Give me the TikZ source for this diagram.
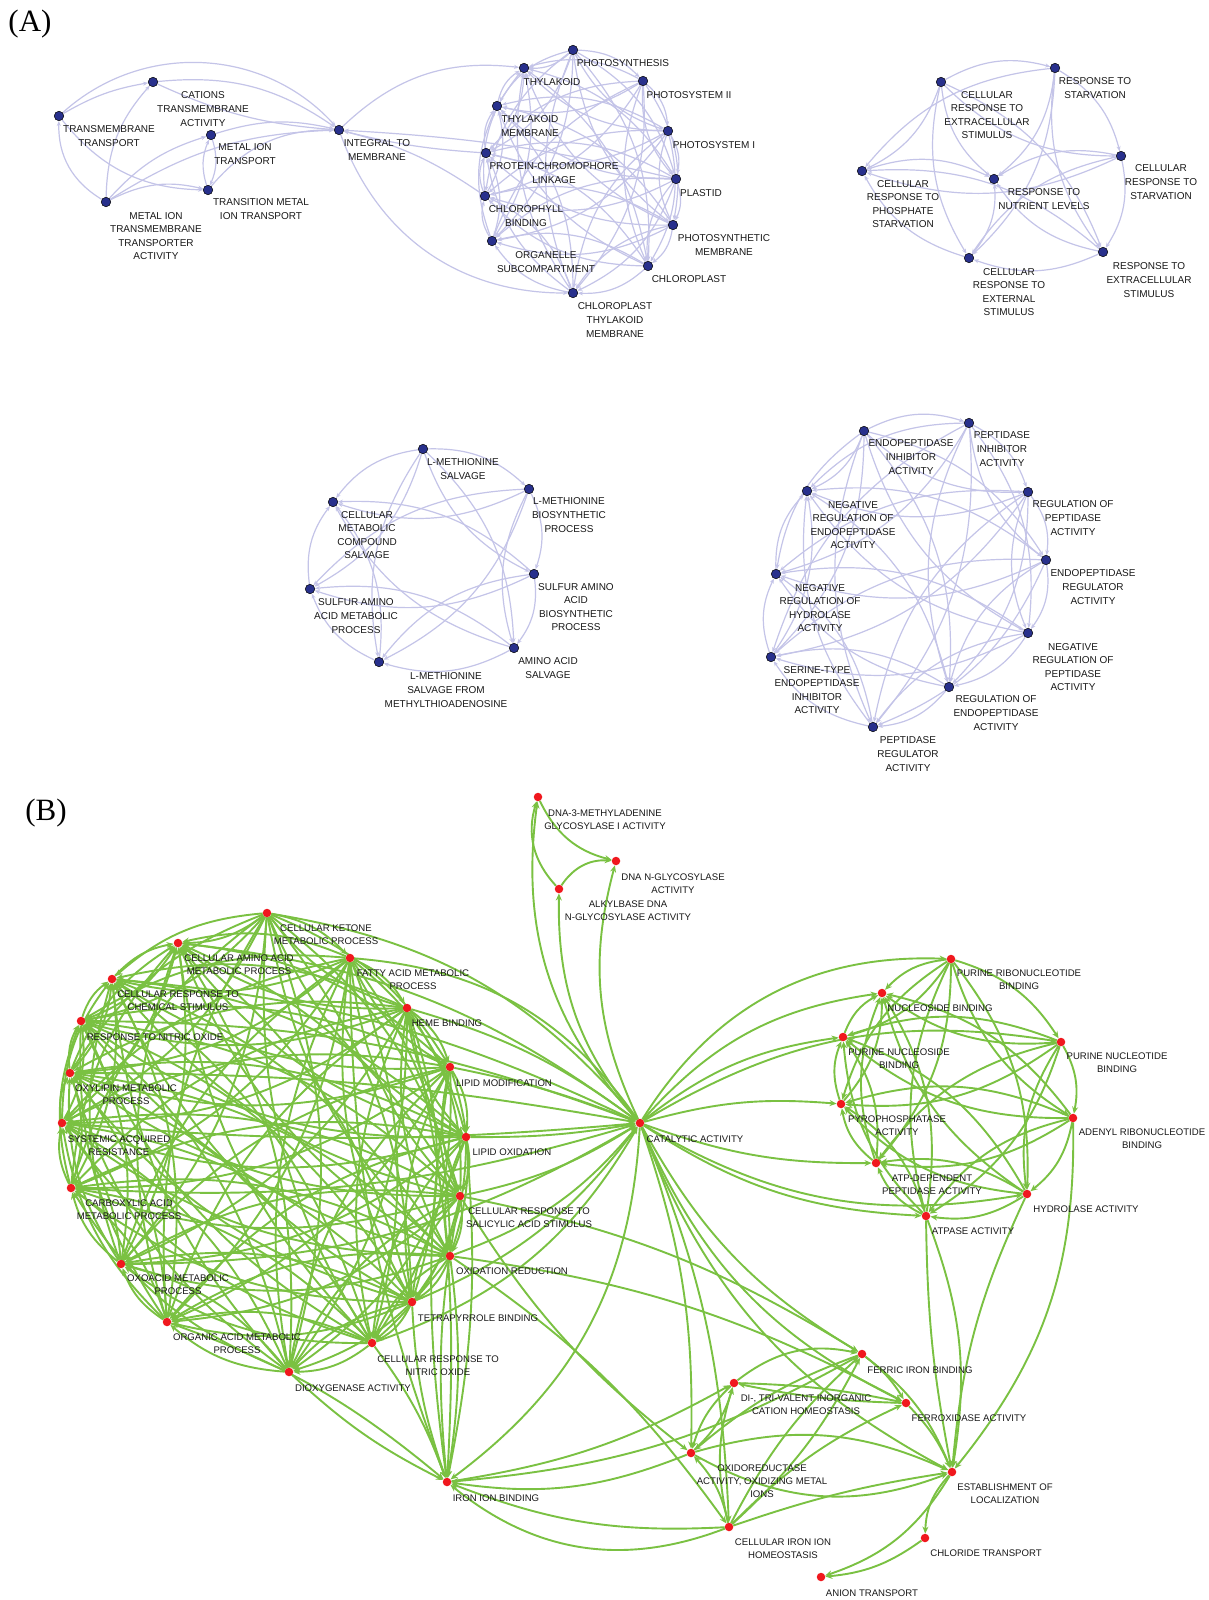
\documentclass[tikz,border=0pt]{standalone}
\usepackage{fontspec}
\setmainfont{Liberation Sans}
\newfontfamily\panelfont{Liberation Serif}
\usetikzlibrary{arrows.meta}
\definecolor{nodeblue}{RGB}{40,48,140}
\definecolor{nodered}{RGB}{240,24,30}
\definecolor{linklav}{RGB}{196,196,232}
\definecolor{linkgreen}{RGB}{122,193,66}
\pgfdeclarelayer{edges}
\pgfsetlayers{edges,main}

\begin{document}
\begin{tikzpicture}[x=1pt, y=-1pt,
  dotA/.style={circle, draw=black, line width=0.5pt, fill=nodeblue, inner sep=0pt, minimum size=9.5pt},
  dotB/.style={circle, fill=nodered, inner sep=0pt, minimum size=8.5pt},
  labA/.style={align=center, inner sep=0pt, text=black!90, font=\fontsize{10}{13.6}\selectfont},
  labB/.style={align=center, inner sep=0pt, text=black!90, font=\fontsize{9.6}{12.7}\selectfont},
  linkA/.style={draw=linklav, line width=1.2pt, -{Stealth[length=5pt,width=4pt]}},
  linkB/.style={draw=linkgreen, line width=1.9pt, -{Stealth[length=7pt,width=6pt]}},
  panel/.style={font=\panelfont\fontsize{31}{31}\selectfont}
]
\useasboundingbox (0,0) rectangle (1209,1600);

\node[panel] (pa) at (30,24) {(A)};
\node[panel] (pb) at (46,813) {(B)};

% part A
\foreach \nm/\xy/\lxy/\txt in {
  tmt/{59,116}/{109,136}/{TRANSMEMBRANE\\TRANSPORT},
  cat/{153,82}/{203,109}/{CATIONS\\TRANSMEMBRANE\\ACTIVITY},
  mit/{211,135}/{245,154}/{METAL ION\\TRANSPORT},
  tmi/{208,190}/{261,209}/{TRANSITION METAL\\ION TRANSPORT},
  mia/{106,202}/{156,236}/{METAL ION\\TRANSMEMBRANE\\TRANSPORTER\\ACTIVITY},
  itm/{339,130}/{377,150}/{INTEGRAL TO\\MEMBRANE},
  psn/{573,50}/{623,63}/{PHOTOSYNTHESIS},
  thy/{524,68}/{552,82}/{THYLAKOID},
  ps2/{643,81}/{689,95}/{PHOTOSYSTEM II},
  thm/{497,106}/{530,126}/{THYLAKOID\\MEMBRANE},
  ps1/{668,131}/{714,145}/{PHOTOSYSTEM I},
  pcl/{486,153}/{554,173}/{PROTEIN-CHROMOPHORE\\LINKAGE},
  pla/{676,179}/{701,193}/{PLASTID},
  chb/{485,196}/{526,216}/{CHLOROPHYLL\\BINDING},
  psm/{673,225}/{724,245}/{PHOTOSYNTHETIC\\MEMBRANE},
  osc/{492,241}/{546,262}/{ORGANELLE\\SUBCOMPARTMENT},
  chl/{648,266}/{689,279}/{CHLOROPLAST},
  ctm/{573,293}/{615,320}/{CHLOROPLAST\\THYLAKOID\\MEMBRANE},
  rts/{1055,68}/{1095,88}/{RESPONSE TO\\STARVATION},
  cre/{941,82}/{987,115}/{CELLULAR\\RESPONSE TO\\EXTRACELLULAR\\STIMULUS},
  crs/{1121,156}/{1161,182}/{CELLULAR\\RESPONSE TO\\STARVATION},
  cps/{862,171}/{903,204}/{CELLULAR\\RESPONSE TO\\PHOSPHATE\\STARVATION},
  rnl/{994,179}/{1044,199}/{RESPONSE TO\\NUTRIENT LEVELS},
  cex/{969,258}/{1009,292}/{CELLULAR\\RESPONSE TO\\EXTERNAL\\STIMULUS},
  res/{1103,252}/{1149,280}/{RESPONSE TO\\EXTRACELLULAR\\STIMULUS},
  mss/{423,449}/{463,469}/{L-METHIONINE\\SALVAGE},
  mbp/{529,489}/{569,515}/{L-METHIONINE\\BIOSYNTHETIC\\PROCESS},
  cmc/{333,502}/{367,535}/{CELLULAR\\METABOLIC\\COMPOUND\\SALVAGE},
  sab/{534,574}/{576,607}/{SULFUR AMINO\\ACID\\BIOSYNTHETIC\\PROCESS},
  sam/{310,589}/{356,616}/{SULFUR AMINO\\ACID METABOLIC\\PROCESS},
  aas/{514,648}/{548,668}/{AMINO ACID\\SALVAGE},
  msm/{379,662}/{446,690}/{L-METHIONINE\\SALVAGE FROM\\METHYLTHIOADENOSINE},
  eia/{864,431}/{911,457}/{ENDOPEPTIDASE\\INHIBITOR\\ACTIVITY},
  pia/{969,423}/{1002,449}/{PEPTIDASE\\INHIBITOR\\ACTIVITY},
  nre/{807,491}/{853,525}/{NEGATIVE\\REGULATION OF\\ENDOPEPTIDASE\\ACTIVITY},
  rpa/{1028,492}/{1073,518}/{REGULATION OF\\PEPTIDASE\\ACTIVITY},
  era/{1046,560}/{1093,587}/{ENDOPEPTIDASE\\REGULATOR\\ACTIVITY},
  nrh/{776,574}/{820,608}/{NEGATIVE\\REGULATION OF\\HYDROLASE\\ACTIVITY},
  nrp/{1028,633}/{1073,667}/{NEGATIVE\\REGULATION OF\\PEPTIDASE\\ACTIVITY},
  sei/{771,657}/{817,690}/{SERINE-TYPE\\ENDOPEPTIDASE\\INHIBITOR\\ACTIVITY},
  rea/{949,687}/{996,713}/{REGULATION OF\\ENDOPEPTIDASE\\ACTIVITY},
  pra/{873,727}/{908,754}/{PEPTIDASE\\REGULATOR\\ACTIVITY}}{
  \node[dotA] (\nm) at (\xy) {};
  \node[labA] (\nm-t) at (\lxy) {\txt};
}

% part B
\foreach \nm/\xy/\lxy/\txt in {
  dna/{538,797}/{605,820}/{DNA-3-METHYLADENINE\\GLYCOSYLASE I ACTIVITY},
  dng/{616,861}/{673,884}/{DNA N-GLYCOSYLASE\\ACTIVITY},
  alk/{559,889}/{628,911}/{ALKYLBASE DNA\\N-GLYCOSYLASE ACTIVITY},
  ckm/{267,913}/{326,935}/{CELLULAR KETONE\\METABOLIC PROCESS},
  caa/{178,943}/{239,965}/{CELLULAR AMINO ACID\\METABOLIC PROCESS},
  fam/{350,958}/{413,980}/{FATTY ACID METABOLIC\\PROCESS},
  crc/{112,979}/{178,1001}/{CELLULAR RESPONSE TO\\CHEMICAL STIMULUS},
  hem/{407,1008}/{447,1023}/{HEME BINDING},
  rno/{81,1021}/{155,1037}/{RESPONSE TO NITRIC OXIDE},
  lmo/{450,1067}/{504,1083}/{LIPID MODIFICATION},
  oxy/{70,1073}/{126,1095}/{OXYLIPIN METABOLIC\\PROCESS},
  sar/{62,1123}/{119,1146}/{SYSTEMIC ACQUIRED\\RESISTANCE},
  lox/{466,1137}/{512,1152}/{LIPID OXIDATION},
  cam/{71,1188}/{129,1210}/{CARBOXYLIC ACID\\METABOLIC PROCESS},
  csa/{460,1196}/{529,1218}/{CELLULAR RESPONSE TO\\SALICYLIC ACID STIMULUS},
  oxr/{450,1256}/{512,1271}/{OXIDATION REDUCTION},
  oam/{121,1264}/{178,1285}/{OXOACID METABOLIC\\PROCESS},
  tet/{412,1302}/{478,1318}/{TETRAPYRROLE BINDING},
  orm/{167,1322}/{237,1344}/{ORGANIC ACID METABOLIC\\PROCESS},
  crn/{372,1343}/{438,1366}/{CELLULAR RESPONSE TO\\NITRIC OXIDE},
  dio/{289,1372}/{353,1388}/{DIOXYGENASE ACTIVITY},
  cta/{640,1123}/{695,1139}/{CATALYTIC ACTIVITY},
  prb/{951,959}/{1019,980}/{PURINE RIBONUCLEOTIDE\\BINDING},
  nuc/{882,993}/{940,1008}/{NUCLEOSIDE BINDING},
  pns/{843,1037}/{899,1059}/{PURINE NUCLEOSIDE\\BINDING},
  pnb/{1061,1042}/{1117,1063}/{PURINE NUCLEOTIDE\\BINDING},
  pyr/{841,1104}/{897,1126}/{PYROPHOSPHATASE\\ACTIVITY},
  adr/{1073,1118}/{1142,1139}/{ADENYL RIBONUCLEOTIDE\\BINDING},
  atd/{876,1163}/{932,1185}/{ATP-DEPENDENT\\PEPTIDASE ACTIVITY},
  hyd/{1027,1194}/{1086,1209}/{HYDROLASE ACTIVITY},
  atp/{926,1216}/{973,1231}/{ATPASE ACTIVITY},
  fib/{862,1354}/{920,1370}/{FERRIC IRON BINDING},
  dtv/{734,1383}/{806,1405}/{DI-, TRI-VALENT INORGANIC\\CATION HOMEOSTASIS},
  fer/{906,1403}/{969,1418}/{FERROXIDASE ACTIVITY},
  oxm/{691,1453}/{762,1481}/{OXIDOREDUCTASE\\ACTIVITY, OXIDIZING METAL\\IONS},
  iib/{447,1482}/{496,1498}/{IRON ION BINDING},
  est/{952,1472}/{1005,1494}/{ESTABLISHMENT OF\\LOCALIZATION},
  cih/{729,1527}/{783,1549}/{CELLULAR IRON ION\\HOMEOSTASIS},
  clt/{925,1538}/{986,1553}/{CHLORIDE TRANSPORT},
  ant/{821,1577}/{872,1593}/{ANION TRANSPORT}}{
  \node[dotB] (\nm) at (\xy) {};
  \node[labB] (\nm-t) at (\lxy) {\txt};
}

\begin{pgfonlayer}{edges}
\fill[white] (0,0) rectangle (1209,1600);
% dense clusters: every pair linked
\foreach \st/\bd/\lst in {
  linkA/22/{psn,ps2,ps1,pla,psm,chl,ctm,osc,chb,pcl,thm,thy},
  linkA/22/{cre,rts,crs,res,cex,cps,rnl},
  linkA/22/{mss,mbp,sab,aas,msm,sam,cmc},
  linkA/22/{eia,pia,rpa,era,nrp,rea,pra,sei,nrh,nre},
  linkB/18/{ckm,fam,hem,lmo,lox,csa,oxr,tet,crn,dio,orm,oam,cam,sar,oxy,rno,crc,caa},
  linkB/20/{prb,pnb,adr,hyd,atp,atd,pyr,pns,nuc}}{
  \foreach \ua [count=\ia] in \lst {
    \foreach \ub [count=\ib] in \lst {
      \ifnum\ib>\ia
        \ifodd\numexpr\ia+\ib\relax \def\ang{\bd}\else \def\ang{-\bd}\fi
        \draw[\st, bend left=\ang] (\ua) to (\ub);
      \fi
    }
  }
}
% transport group and its links
\foreach \ua/\ub/\bd in {tmt/cat/10, tmt/itm/45, cat/itm/20, cat/itm/-10,
  mia/tmt/30, mia/cat/20, mia/mit/15, mia/tmi/20, mia/itm/15, tmt/tmi/-25,
  mit/tmi/20, tmi/mit/20, mit/itm/15, tmi/itm/25,
  itm/thy/25, pcl/itm/5, pla/itm/-5, chb/itm/-10, itm/ctm/-35}{
  \draw[linkA, bend left=\bd] (\ua) to (\ub);
}
% part B single links
\foreach \ua/\ub/\bd in {
  fam/cta/25, ckm/cta/20, hem/cta/10, lmo/cta/5, lox/cta/-5, csa/cta/-10,
  oxr/cta/-15, tet/cta/-15, crn/cta/-20, rno/cta/10, oxy/cta/5, sar/cta/-5,
  cam/cta/-10, oam/cta/-15, caa/cta/15, crc/cta/10,
  cta/dna/25, cta/alk/20, cta/dng/20, alk/dna/30, alk/dng/30, dna/dng/-25,
  cta/prb/30, cta/nuc/20, cta/pns/15, cta/pyr/10, cta/pnb/20, cta/atd/-10,
  cta/atp/-15, cta/hyd/-20,
  cta/fib/-15, cta/fer/-20, cta/est/-20, cta/oxm/10, cta/iib/25, cta/cih/10,
  csa/fib/10, oxr/fer/10, oxr/cih/10, csa/oxm/-10,
  hem/iib/8, lmo/iib/-8, lox/iib/8, csa/iib/-8, oxr/iib/8, tet/iib/-8,
  crn/iib/8, dio/iib/-8, orm/iib/10, fam/iib/-10,
  dtv/fib/25, fib/fer/10, fib/est/15, fib/oxm/-10, cih/fib/-10, cih/fib/10,
  cih/dtv/15, dtv/fer/5, fer/dtv/5, oxm/dtv/-15, dtv/oxm/-15, cih/oxm/-15,
  oxm/est/-25, oxm/est/20, cih/est/5, cih/fer/10, fer/est/10,
  iib/dtv/-10, oxm/iib/15, cih/iib/30, cih/iib/12, fib/iib/12,
  est/clt/-20, clt/ant/15, est/ant/20,
  hyd/est/-10, atp/est/15, atp/est/-5, adr/est/20}{
  \draw[linkB, bend left=\bd] (\ua) to (\ub);
}
\end{pgfonlayer}
\end{tikzpicture}
\end{document}
